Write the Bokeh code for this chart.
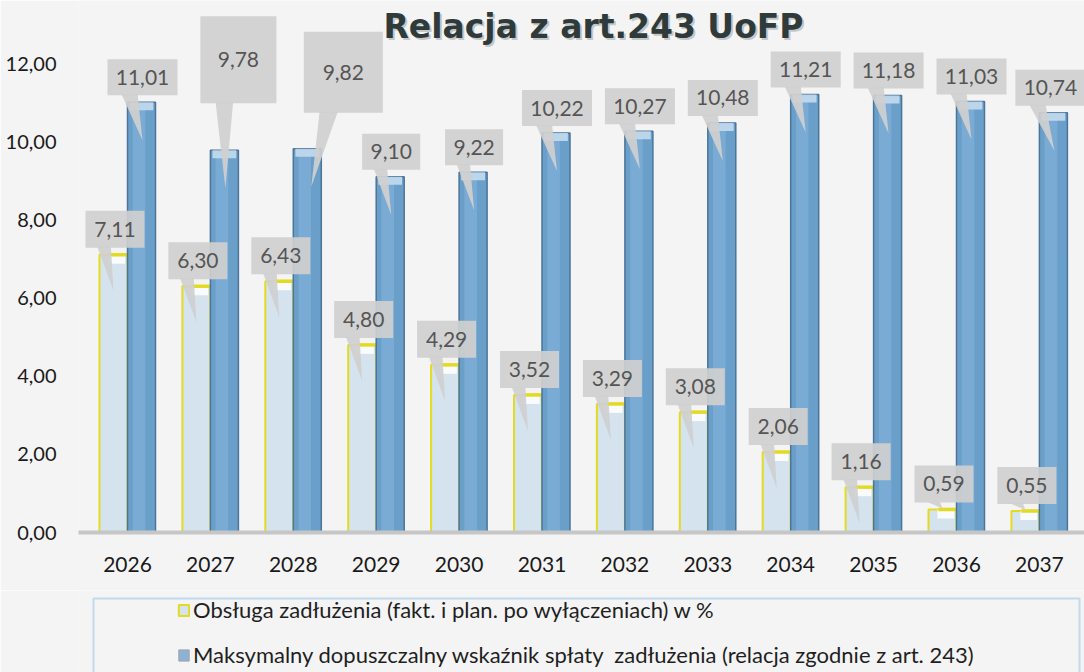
from bokeh.plotting import figure
from bokeh.models import Range1d, FixedTicker, Label, Legend, LegendItem, BoxAnnotation
from bokeh.layouts import column
from bokeh.embed import file_html
from bokeh.resources import INLINE
from bokeh.core.properties import value

# ---------------- data ----------------
years = ["2026", "2027", "2028", "2029", "2030", "2031",
         "2032", "2033", "2034", "2035", "2036", "2037"]
obsluga = [7.11, 6.30, 6.43, 4.80, 4.29, 3.52, 3.29, 3.08, 2.06, 1.16, 0.59, 0.55]
maksymalny = [11.01, 9.78, 9.82, 9.10, 9.22, 10.22, 10.27, 10.48, 11.21, 11.18, 11.03, 10.74]
y_ticks = [0, 2, 4, 6, 8, 10, 12]
y_tick_labels = ["0,00", "2,00", "4,00", "6,00", "8,00", "10,00", "12,00"]
title_text = "Relacja z art.243 UoFP"
legend_labels = ["Obsługa zadłużenia (fakt. i plan. po wyłączeniach) w %",
                 "Maksymalny dopuszczalny wskaźnik spłaty  zadłużenia (relacja zgodnie z art. 243)"]

# ---------------- layout / style ----------------
FIG_W, TOP_H, BOT_H = 1084, 590, 82
BORDER_L, BORDER_B = 78, 58
PX_X, PX_Y = 82.9, 39.08          # pixels per data unit
GROUP0_PX = 49                    # frame left -> first group centre
BAR_PX = 28
BG = "#f4f4f4"
BLUE = "#6a9fca"
BLUE_EDGE = "#4b7499"
LIGHT = "#d5e3ef"
YELLOW = "#e3da22"
BOX = "#cfcfcf"
LBL_COL = "#555555"

frame_w = FIG_W - BORDER_L
frame_h = TOP_H - BORDER_B
x0 = -GROUP0_PX / PX_X
x_range = Range1d(x0, x0 + frame_w / PX_X)
y_range = Range1d(0, frame_h / PX_Y)

bw = BAR_PX / PX_X
off = (BAR_PX / 2) / PX_X
idx = list(range(len(years)))
x_y = [i - off for i in idx]
x_b = [i + off for i in idx]


def fmt(v):
    return f"{v:.2f}".replace(".", ",")


p = figure(width=FIG_W, height=TOP_H, x_range=x_range, y_range=y_range,
           toolbar_location=None, output_backend="svg",
           min_border_left=BORDER_L, min_border_right=0, min_border_top=0,
           min_border_bottom=BORDER_B)
p.background_fill_color = BG
p.border_fill_color = BG
p.outline_line_color = None
p.xgrid.visible = False
p.ygrid.visible = False

# axes
p.yaxis.ticker = FixedTicker(ticks=y_ticks)
p.yaxis.major_label_overrides = {t: l for t, l in zip(y_ticks, y_tick_labels)}
p.yaxis.axis_line_color = None
p.yaxis.major_tick_line_color = None
p.yaxis.minor_tick_line_color = None
p.yaxis.major_label_standoff = 16
p.yaxis.major_label_text_font = "Lato"
p.yaxis.major_label_text_font_size = "20px"
p.yaxis.major_label_text_color = "#1a1a1a"

p.xaxis.ticker = FixedTicker(ticks=idx)
p.xaxis.major_label_overrides = {i: y for i, y in zip(idx, years)}
p.xaxis.axis_line_color = "#c6c6c6"
p.xaxis.axis_line_width = 4
p.xaxis.major_tick_line_color = None
p.xaxis.minor_tick_line_color = None
p.xaxis.major_label_standoff = 18
p.xaxis.major_label_text_font = "Lato"
p.xaxis.major_label_text_font_size = "21px"
p.xaxis.major_label_text_color = "#1a1a1a"

# bars: series 1 (light with yellow edges)
r_y = p.vbar(x=x_y, top=obsluga, width=bw, bottom=0, fill_color=LIGHT,
             line_color=YELLOW, line_width=2)
p.vbar(x=[x + 0.04 for x in x_y], top=obsluga,
       bottom=[v - 9 / PX_Y for v in obsluga], width=bw * 0.6,
       fill_color="white", fill_alpha=0.85, line_color=None)
p.segment(x0=[x - 0.05 for x in x_y], x1=[x + off for x in x_y],
          y0=obsluga, y1=obsluga, line_color=YELLOW, line_width=3.5)

# bars: series 2 (blue)
r_b = p.vbar(x=x_b, top=maksymalny, width=bw, bottom=0, fill_color=BLUE,
             line_color=BLUE_EDGE, line_width=1.5)
p.vbar(x=[x - 0.03 for x in x_b], top=[v - 6 / PX_Y for v in maksymalny], bottom=0,
       width=bw * 0.45, fill_color="#8dbbe0", fill_alpha=0.45, line_color=None)
p.vbar(x=x_b, top=maksymalny, bottom=[v - 8 / PX_Y for v in maksymalny],
       width=bw * 0.85, fill_color="#cfe2f2", fill_alpha=0.8, line_color=None)

# ---------------- callouts ----------------
blue_over = {1: dict(dx=14, gap=47, w=76, h=87, tdx=1),
             2: dict(dx=36, gap=36, w=79, h=81, tdx=4),
             11: dict(dx=-3)}

q_l, q_r, q_b, q_t = [], [], [], []
t_x, t_y, t_s = [], [], []
pt_xs, pt_ys = [], []


def add_callout(bx, v, dx, gap, w, h, tdx, tip_px):
    txt = fmt(v)
    cx = bx + dx / PX_X
    bottom = v + gap / PX_Y
    top = bottom + h / PX_Y
    half = (w / 2) / PX_X
    q_l.append(cx - half)
    q_r.append(cx + half)
    q_b.append(bottom)
    q_t.append(top)
    t_x.append(cx)
    t_y.append((bottom + top) / 2)
    t_s.append(txt)
    base_y = bottom + 1 / PX_Y
    tip_y = v - tip_px / PX_Y
    pt_xs.append([cx - 0.3 * w / PX_X, cx - 0.07 * w / PX_X, bx + tdx / PX_X])
    pt_ys.append([base_y, base_y, tip_y])


for i, v in enumerate(maksymalny):
    txt = fmt(v)
    o = dict(dx=1, gap=7, w=12 * len(txt) + 10, h=36, tdx=1)
    o.update(blue_over.get(i, {}))
    add_callout(x_b[i], v, o["dx"], o["gap"], o["w"], o["h"], o["tdx"], 38)

for i, v in enumerate(obsluga):
    tip = 36 if v * PX_Y - 36 >= 8 else -1
    add_callout(x_y[i], v, 1.5, 7, 59, 37, 0, tip)

p.patches(xs=pt_xs, ys=pt_ys, fill_color=BOX, fill_alpha=0.92, line_color=None)
p.quad(left=q_l, right=q_r, bottom=q_b, top=q_t, fill_color=BOX,
       fill_alpha=0.92, line_color=None)
p.text(x=t_x, y=t_y, text=t_s, text_font=value("Lato"), text_font_size="21px",
       text_align="center", text_baseline="middle", text_color=LBL_COL)

# ---------------- title ----------------
mid = (x_range.start + x_range.end) / 2
tx = mid + 12 / PX_X
ty = y_range.end - 26 / PX_Y
p.add_layout(Label(x=tx + 2 / PX_X, y=ty - 2 / PX_Y, text=title_text,
                   text_font="DejaVu Sans", text_font_style="bold",
                   text_font_size="33px", text_align="center",
                   text_baseline="middle", text_color="#8a9090", text_alpha=0.45))
p.add_layout(Label(x=tx, y=ty, text=title_text, text_font="DejaVu Sans",
                   text_font_style="bold", text_font_size="33px",
                   text_align="center", text_baseline="middle",
                   text_color="#2f3b3b"))

# ---------------- legend area ----------------
fb = figure(width=FIG_W, height=BOT_H, x_range=Range1d(0, frame_w),
            y_range=Range1d(0, BOT_H), toolbar_location=None,
            output_backend="svg", x_axis_location=None, y_axis_location=None,
            min_border_left=BORDER_L, min_border_right=0,
            min_border_top=0, min_border_bottom=0)
fb.background_fill_color = BG
fb.border_fill_color = BG
fb.outline_line_color = None
fb.grid.visible = False

fb.add_layout(BoxAnnotation(left=15, right=frame_w - 5, top=BOT_H - 8, bottom=-10,
                            fill_alpha=0, line_color="#4aa3df", line_width=2))

# legend proxies (zero-height, outside the visible range)
r1 = fb.vbar(x=[-100], top=[0], bottom=[0], width=1, fill_color=LIGHT,
             line_color=YELLOW, line_width=2)
r2 = fb.vbar(x=[-100], top=[0], bottom=[0], width=1, fill_color="#8fb2d2",
             line_color="#9aa6b4", line_width=1)
legend = Legend(items=[LegendItem(label=legend_labels[0], renderers=[r1]),
                       LegendItem(label=legend_labels[1], renderers=[r2])],
                location=(99, 4), orientation="vertical",
                padding=0, margin=0, spacing=18,
                glyph_width=13, glyph_height=14, label_height=26,
                label_standoff=3,
                label_text_font="Lato", label_text_font_size="22px",
                label_text_color="#1f1f1f",
                border_line_color=None, background_fill_alpha=0)
fb.add_layout(legend)

layout = column(p, fb, spacing=0)
open("out.html", "w").write(file_html(layout, INLINE))
